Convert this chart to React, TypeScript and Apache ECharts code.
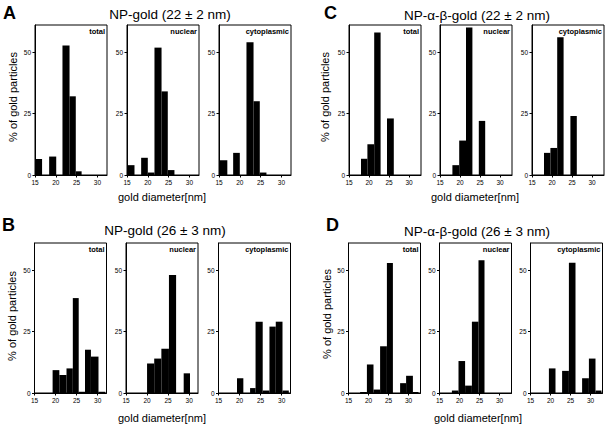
import React, { useEffect, useRef } from "react";
import * as echarts from "echarts";

// ---------- data (bins: [from nm, to nm, % of gold particles]) ----------
const aTotal = [[15, 16.7, 6.5], [18.4, 20.1, 7.5], [21.6, 23.3, 52.7], [23.3, 24.8, 32], [24.8, 26.2, 1.5]];
const aNuclear = [[15, 16.8, 4], [18.4, 20, 7], [20, 21.6, 1], [21.6, 23.3, 51.8], [23.3, 24.8, 34], [24.8, 26.4, 2]];
const aCyto = [[15, 17, 6], [18.4, 20, 9], [21.6, 23.3, 54], [23.3, 24.8, 30], [24.8, 26.4, 1]];

const bTotal = [[19.3, 20.9, 9.3], [20.9, 22.6, 7.3], [22.6, 24.1, 10], [24.1, 25.5, 38.6], [25.5, 27, 0.5], [27, 28.4, 17.6], [28.4, 30.2, 14.8], [30.2, 31.8, 0.5]];
const bNuclear = [[20, 21.7, 12], [21.7, 23.4, 14], [23.4, 25.2, 18], [25.2, 26.9, 48], [28.7, 30.2, 8]];
const bCyto = [[19.4, 20.9, 6], [22.5, 23.8, 2], [23.8, 25.5, 29], [25.5, 27.1, 1], [27.1, 28.6, 27], [28.6, 30.2, 29], [30.2, 31.7, 1]];

const cTotal = [[18, 19.6, 6.6], [19.6, 21.3, 12.5], [21.3, 22.9, 58], [24.5, 26.2, 23]];
const cNuclear = [[18.1, 19.8, 4], [19.8, 21.5, 14], [21.5, 23.1, 60], [24.7, 26.3, 22]];
const cCyto = [[18, 19.6, 9], [19.6, 21.3, 11], [21.3, 22.9, 56], [24.6, 26.2, 24]];

const dTotal = [[17.9, 19.6, 0.4], [19.6, 21.25, 11.6], [21.25, 22.9, 1.4], [22.9, 24.6, 19], [24.6, 26.1, 52.9], [27.9, 29.4, 4], [29.4, 31.1, 7], [31.1, 32.5, 0.4]];
const dNuclear = [[18.1, 19.75, 1], [19.75, 21.4, 13], [21.4, 23.1, 3], [23.1, 24.75, 29], [24.75, 26.25, 54]];
const dCyto = [[19.6, 21.25, 10], [22.9, 24.6, 9], [24.6, 26.25, 53], [27.9, 29.6, 6], [29.6, 31.25, 14], [31.25, 32.75, 1]];

const subplotNames = ["total", "nuclear", "cytoplasmic"];
const xTickValues = [15, 20, 25, 30];
const yTickValues = [0, 25, 50];
const xTitle = "gold diameter[nm]";
const yTitle = "% of gold particles";

const panelLetters = ["A", "B", "C", "D"];
const panelTitles = ["NP-gold (22 ± 2 nm)", "NP-gold (26 ± 3 nm)", "NP-α-β-gold (22 ± 2 nm)", "NP-α-β-gold (26 ± 3 nm)"];
const panelData = [
  [aTotal, aNuclear, aCyto],
  [bTotal, bNuclear, bCyto],
  [cTotal, cNuclear, cCyto],
  [dTotal, dNuclear, dCyto],
];
const xMin = 15;
const xMaxes = [32.3, 32.1, 33.0, 33.0];
const yMax = 61;

// ---------- layout ----------
const FONT = "'Liberation Sans', Arial, Helvetica, sans-serif";
const layout = [
  { cols: [35, 127, 219], top: 25, titleX: 170, titleY: 14, letterX: 3, letterY: 4, xTitleX: 162, xTitleY: 197, yTitleX: 13, yTitleY: 97 },
  { cols: [34.5, 126, 218.5], top: 243, titleX: 165, titleY: 230, letterX: 2, letterY: 216, xTitleX: 162, xTitleY: 418, yTitleX: 12, yTitleY: 316 },
  { cols: [349, 440, 532], top: 25, titleX: 477, titleY: 15, letterX: 324, letterY: 4, xTitleX: 475, xTitleY: 197, yTitleX: 325, yTitleY: 97 },
  { cols: [348.5, 439.5, 530.5], top: 243, titleX: 477, titleY: 231, letterX: 326, letterY: 216, xTitleX: 478, xTitleY: 418, yTitleX: 327, yTitleY: 314 },
];
const boxW = 72;
const boxH = 150;

function buildOption() {
  const grid: any[] = [];
  const xAxis: any[] = [];
  const yAxis: any[] = [];
  const series: any[] = [];
  const graphic: any[] = [];

  panelData.forEach((subs, p) => {
    const L = layout[p];
    subs.forEach((data, s) => {
      const idx = grid.length;
      const left = L.cols[s];
      grid.push({ left, top: L.top, width: boxW, height: boxH, show: true, borderColor: "#000", borderWidth: 1, containLabel: false });
      xAxis.push({
        type: "value", gridIndex: idx, min: xMin, max: xMaxes[p], interval: 5,
        axisLine: { show: true, onZero: false, lineStyle: { color: "#000", width: 1 } },
        axisTick: { show: true, length: 2.5, lineStyle: { color: "#000" }, customValues: xTickValues },
        axisLabel: { show: true, fontSize: 6.5, color: "#000", margin: 4, fontFamily: FONT, customValues: xTickValues, formatter: (v: number) => (xTickValues.includes(v) ? String(v) : "") },
        splitLine: { show: false },
      });
      yAxis.push({
        type: "value", gridIndex: idx, min: 0, max: yMax, interval: 25,
        axisLine: { show: true, lineStyle: { color: "#000", width: 1 } },
        axisTick: { show: true, length: 2.5, lineStyle: { color: "#000" }, customValues: yTickValues },
        minorTick: { show: false },
        axisLabel: { show: true, fontSize: 6.5, color: "#000", margin: 4, fontFamily: FONT, customValues: yTickValues, formatter: (v: number) => (yTickValues.includes(v) ? String(v) : "") },
        splitLine: { show: false },
      });
      series.push({
        type: "custom", xAxisIndex: idx, yAxisIndex: idx, data,
        encode: { x: [0, 1], y: 2 },
        renderItem: (params: any, api: any) => {
          const p0 = api.coord([api.value(0), api.value(2)]);
          const p1 = api.coord([api.value(1), 0]);
          return { type: "rect", shape: { x: p0[0], y: p0[1], width: p1[0] - p0[0], height: p1[1] - p0[1] }, style: { fill: "#000" } };
        },
      });
      graphic.push({
        type: "text", left: undefined,
        style: { text: subplotNames[s], x: left + boxW - 2, y: L.top + 6, textAlign: "right", textVerticalAlign: "middle", fontSize: 7.5, fontWeight: "bold", fontFamily: FONT, fill: "#000" },
      });
    });
    graphic.push({ type: "text", style: { text: panelLetters[p], x: L.letterX, y: L.letterY, textAlign: "left", textVerticalAlign: "top", fontSize: 18, fontWeight: "bold", fontFamily: FONT, fill: "#000" } });
    graphic.push({ type: "text", style: { text: panelTitles[p], x: L.titleX, y: L.titleY, textAlign: "center", textVerticalAlign: "middle", fontSize: 13.5, fontFamily: FONT, fill: "#000" } });
    graphic.push({ type: "text", style: { text: xTitle, x: L.xTitleX, y: L.xTitleY, textAlign: "center", textVerticalAlign: "middle", fontSize: 11, fontFamily: FONT, fill: "#000" } });
    graphic.push({ type: "text", x: L.yTitleX, y: L.yTitleY, rotation: Math.PI / 2, style: { text: yTitle, x: 0, y: 0, textAlign: "center", textVerticalAlign: "middle", fontSize: 11, fontFamily: FONT, fill: "#000" } });
  });

  return { animation: false, backgroundColor: "#fff", grid, xAxis, yAxis, series, graphic };
}

export default function App() {
  const ref = useRef<HTMLDivElement>(null);
  useEffect(() => {
    document.body.style.margin = "0";
    if (!ref.current) return;
    const chart = echarts.init(ref.current, undefined, { renderer: "svg" });
    chart.setOption(buildOption() as any);
    return () => chart.dispose();
  }, []);
  return <div ref={ref} style={{ position: "absolute", left: 0, top: 0, width: 606, height: 425 }} />;
}
